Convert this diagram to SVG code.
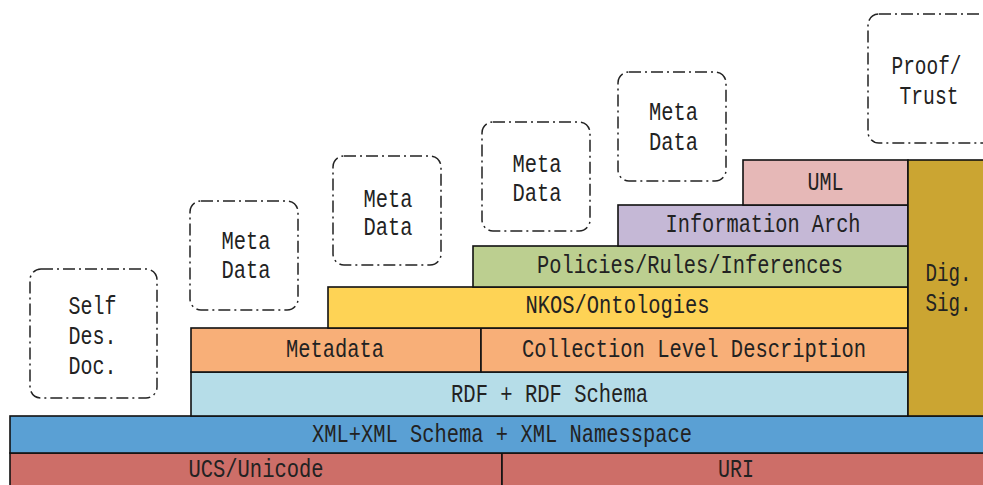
<svg xmlns="http://www.w3.org/2000/svg" width="983" height="485" viewBox="0 0 983 485">
  <style>
    .layer { stroke: #111; stroke-width: 1.6; }
    .note { fill: #fff; stroke: #222; stroke-width: 1.5; stroke-dasharray: 12 4 2 4; }
    text { font-family: "Liberation Mono", "DejaVu Sans Mono", monospace; font-size: 26px; fill: #222; text-anchor: middle; }
  </style>
  <rect width="983" height="485" fill="#fff"/>

  <!-- base layers -->
  <g id="ucs-unicode">
    <rect class="layer" x="10" y="453" width="492" height="36" fill="#CD6E68"/>
    <text x="256" y="477" textLength="135" lengthAdjust="spacingAndGlyphs">UCS/Unicode</text>
  </g>
  <g id="uri">
    <rect class="layer" x="502" y="453" width="490" height="36" fill="#CD6E68"/>
    <text x="736" y="477" textLength="36" lengthAdjust="spacingAndGlyphs">URI</text>
  </g>
  <g id="xml">
    <rect class="layer" x="10" y="416" width="982" height="37" fill="#5AA0D4"/>
    <text x="502" y="442" textLength="380" lengthAdjust="spacingAndGlyphs">XML+XML Schema + XML Namesspace</text>
  </g>
  <g id="rdf">
    <rect class="layer" x="191" y="372" width="717" height="44" fill="#B6DDE8"/>
    <text x="549.5" y="402" textLength="197" lengthAdjust="spacingAndGlyphs">RDF + RDF Schema</text>
  </g>
  <g id="metadata">
    <rect class="layer" x="191" y="328" width="290" height="44" fill="#F8AF78"/>
    <text x="335" y="357" textLength="98" lengthAdjust="spacingAndGlyphs">Metadata</text>
  </g>
  <g id="collection-level">
    <rect class="layer" x="481" y="328" width="427" height="44" fill="#F8AF78"/>
    <text x="694" y="357" textLength="344" lengthAdjust="spacingAndGlyphs">Collection Level Description</text>
  </g>
  <g id="nkos">
    <rect class="layer" x="328" y="287" width="580" height="41" fill="#FED355"/>
    <text x="617.5" y="313" textLength="184" lengthAdjust="spacingAndGlyphs">NKOS/Ontologies</text>
  </g>
  <g id="policies">
    <rect class="layer" x="473" y="246" width="435" height="41" fill="#BCCF90"/>
    <text x="690" y="273" textLength="306" lengthAdjust="spacingAndGlyphs">Policies/Rules/Inferences</text>
  </g>
  <g id="information-arch">
    <rect class="layer" x="618" y="205" width="290" height="41" fill="#C5B8D6"/>
    <text x="763" y="232" textLength="195" lengthAdjust="spacingAndGlyphs">Information Arch</text>
  </g>
  <g id="uml">
    <rect class="layer" x="743" y="160" width="165" height="45" fill="#E6B8B7"/>
    <text x="825.5" y="190" textLength="36" lengthAdjust="spacingAndGlyphs">UML</text>
  </g>
  <g id="dig-sig">
    <rect class="layer" x="908" y="160" width="84" height="256" fill="#CBA532"/>
    <text x="948.5" y="281" textLength="46" lengthAdjust="spacingAndGlyphs">Dig.</text>
    <text x="948.5" y="311" textLength="46" lengthAdjust="spacingAndGlyphs">Sig.</text>
  </g>

  <!-- dash-dot annotation boxes -->
  <g id="self-des-doc">
    <rect class="note" x="30" y="269" width="127" height="129" rx="11"/>
    <text x="92.5" y="314" textLength="48" lengthAdjust="spacingAndGlyphs">Self</text>
    <text x="92.5" y="344" textLength="48" lengthAdjust="spacingAndGlyphs">Des.</text>
    <text x="92.5" y="374" textLength="48" lengthAdjust="spacingAndGlyphs">Doc.</text>
  </g>
  <g id="meta-data-1">
    <rect class="note" x="190" y="201" width="108" height="109" rx="11"/>
    <text x="246" y="249" textLength="49" lengthAdjust="spacingAndGlyphs">Meta</text>
    <text x="246" y="278" textLength="49" lengthAdjust="spacingAndGlyphs">Data</text>
  </g>
  <g id="meta-data-2">
    <rect class="note" x="333" y="156" width="108" height="109" rx="11"/>
    <text x="388" y="207" textLength="49" lengthAdjust="spacingAndGlyphs">Meta</text>
    <text x="388" y="235" textLength="49" lengthAdjust="spacingAndGlyphs">Data</text>
  </g>
  <g id="meta-data-3">
    <rect class="note" x="482" y="122" width="108" height="109" rx="11"/>
    <text x="537" y="172" textLength="49" lengthAdjust="spacingAndGlyphs">Meta</text>
    <text x="537" y="201" textLength="49" lengthAdjust="spacingAndGlyphs">Data</text>
  </g>
  <g id="meta-data-4">
    <rect class="note" x="618" y="72" width="108" height="109" rx="11"/>
    <text x="673.5" y="120" textLength="49" lengthAdjust="spacingAndGlyphs">Meta</text>
    <text x="673.5" y="150" textLength="49" lengthAdjust="spacingAndGlyphs">Data</text>
  </g>
  <g id="proof-trust">
    <rect class="note" x="868" y="14" width="140" height="129" rx="11"/>
    <text x="926.5" y="74" textLength="70" lengthAdjust="spacingAndGlyphs">Proof/</text>
    <text x="929" y="104" textLength="59" lengthAdjust="spacingAndGlyphs">Trust</text>
  </g>

  <!-- the stack has no connectors -->
  <g id="connectors"/>
</svg>
